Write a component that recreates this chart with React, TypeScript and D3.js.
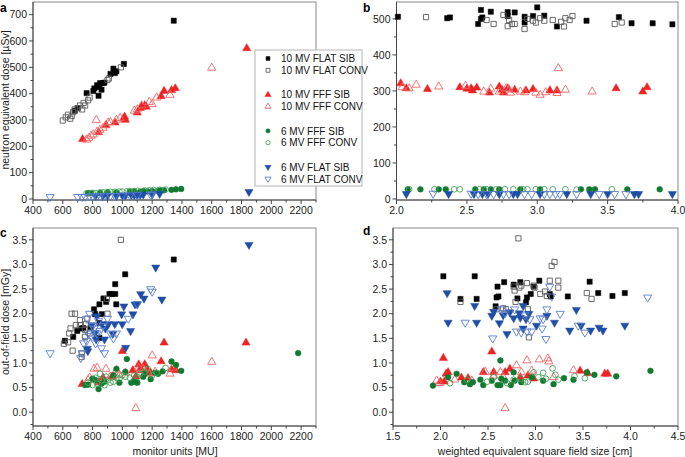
import React from 'react';
import * as d3 from 'd3';

type Pt = [number, number];

const seriesNames = [
  '10 MV FLAT SIB', '10 MV FLAT CONV',
  '10 MV FFF SIB', '10 MV FFF CONV',
  '6 MV FFF SIB', '6 MV FFF CONV',
  '6 MV FLAT SIB', '6 MV FLAT CONV',
];

// tick labels
const muTicks = [400, 600, 800, 1000, 1200, 1400, 1600, 1800, 2000, 2200];
const neutronTicksA = [0, 100, 200, 300, 400, 500, 600, 700];
const neutronTicksB = [0, 100, 200, 300, 400, 500];
const fieldTicksB = [2.0, 2.5, 3.0, 3.5, 4.0];
const fieldTicksD = [1.5, 2.0, 2.5, 3.0, 3.5, 4.0, 4.5];
const oofTicks = [0.0, 0.5, 1.0, 1.5, 2.0, 2.5, 3.0, 3.5];

// ---- panel a: monitor units vs neutron equivalent dose
const aFlat10Sib: Pt[] = [[680, 335], [700, 345], [760, 402], [805, 410], [812, 420], [830, 432], [840, 392], [845, 425], [850, 440], [860, 415], [870, 440], [880, 442], [920, 475], [940, 495], [950, 478], [960, 485], [1010, 513], [1345, 677]];
const aFlat10Conv: Pt[] = [[600, 298], [620, 310], [635, 320], [650, 305], [660, 315], [670, 330], [680, 340], [700, 345], [715, 355], [730, 340], [740, 365], [750, 355], [770, 375], [780, 385], [900, 452], [910, 458], [990, 500]];
const aFff10Sib: Pt[] = [[733, 227], [840, 253], [890, 280], [950, 290], [1010, 305], [1015, 312], [1020, 300], [1100, 328], [1120, 345], [1130, 350], [1150, 355], [1160, 350], [1260, 390], [1280, 410], [1330, 413], [1355, 420], [1835, 572]];
const aFff10Conv: Pt[] = [[760, 225], [775, 232], [790, 240], [805, 245], [825, 300], [830, 255], [850, 262], [870, 270], [890, 280], [905, 290], [920, 292], [960, 300], [985, 307], [1080, 335], [1100, 340], [1130, 355], [1180, 368], [1200, 360], [1230, 385], [1320, 395], [1600, 498]];
const aFff6Sib: Pt[] = [[770, 22], [790, 22], [850, 24], [900, 25], [960, 25], [1050, 27], [1080, 28], [1120, 28], [1140, 30], [1170, 29], [1200, 30], [1240, 31], [1260, 33], [1280, 33], [1330, 35], [1360, 37], [1395, 38]];
const aFff6Conv: Pt[] = [[760, 22], [800, 23], [820, 22], [850, 24], [870, 25], [900, 26], [920, 27], [950, 27], [980, 28], [1000, 28], [1030, 29], [1050, 30], [1080, 30], [1100, 31], [1150, 32], [1180, 33], [1210, 34], [1250, 35], [1290, 36]];
const aFlat6Sib: Pt[] = [[820, 12], [870, 12], [900, 13], [960, 12], [1000, 14], [1020, 13], [1060, 15], [1080, 15], [1100, 16], [1120, 16], [1140, 17], [1200, 18], [1250, 20], [1850, 27]];
const aFlat6Conv: Pt[] = [[515, 8], [700, 8], [730, 8], [750, 9], [780, 10], [800, 10], [830, 10], [850, 11], [880, 11], [920, 12], [950, 12], [1000, 13], [1050, 14], [1100, 15], [1190, 16], [1200, 18]];

// ---- panel b: field size vs neutron equivalent dose
const bFlat10Sib: Pt[] = [[2.01, 506], [2.36, 502], [2.38, 504], [2.58, 486], [2.60, 500], [2.60, 525], [2.61, 504], [2.67, 520], [2.79, 519], [2.79, 508], [2.84, 518], [2.91, 490], [2.91, 506], [2.97, 508], [3.00, 532], [3.05, 509], [3.14, 479], [3.35, 495], [3.58, 505], [3.67, 488], [3.82, 488], [3.96, 485]];
const bFlat10Conv: Pt[] = [[2.21, 505], [2.64, 497], [2.69, 486], [2.76, 511], [2.79, 480], [2.80, 497], [2.82, 486], [2.84, 486], [2.91, 472], [2.93, 500], [2.97, 495], [2.99, 490], [3.02, 502], [3.05, 495], [3.11, 497], [3.17, 492], [3.19, 479], [3.20, 502], [3.23, 497], [3.25, 508], [3.55, 486], [3.60, 490]];
const bFff10Sib: Pt[] = [[2.03, 321], [2.07, 307], [2.22, 305], [2.45, 310], [2.50, 306], [2.53, 307], [2.54, 301], [2.57, 309], [2.66, 295], [2.73, 312], [2.75, 303], [2.76, 295], [2.79, 307], [2.84, 303], [2.92, 301], [2.97, 305], [3.09, 301], [3.14, 301], [3.56, 307], [3.75, 298], [3.78, 310]];
const bFff10Conv: Pt[] = [[2.04, 310], [2.09, 307], [2.14, 317], [2.30, 312], [2.49, 314], [2.62, 298], [2.67, 306], [2.73, 298], [2.78, 307], [2.80, 304], [2.81, 295], [2.88, 298], [2.91, 296], [2.99, 295], [3.02, 289], [3.06, 296], [3.14, 294], [3.15, 363], [3.20, 303], [3.39, 298]];
const bFff6Sib: Pt[] = [[2.08, 27], [2.17, 27], [2.30, 27], [2.35, 27], [2.56, 27], [2.62, 27], [2.67, 27], [2.73, 27], [2.88, 27], [3.02, 27], [3.31, 27], [3.37, 27], [3.41, 27], [3.64, 27], [3.87, 27]];
const bFff6Conv: Pt[] = [[2.09, 27], [2.27, 27], [2.41, 27], [2.45, 27], [2.59, 27], [2.64, 27], [2.71, 27], [2.77, 27], [2.83, 27], [2.90, 27], [2.93, 27], [2.99, 27], [3.05, 27], [3.11, 27], [3.20, 27], [3.28, 26], [3.53, 27]];
const bFlat6Sib: Pt[] = [[2.07, 14], [2.37, 14], [2.55, 14], [2.61, 14], [2.65, 14], [2.73, 14], [2.83, 14], [2.86, 14], [3.02, 14], [3.21, 14], [3.38, 14], [3.50, 14], [3.69, 14], [3.72, 14], [3.96, 14]];
const bFlat6Conv: Pt[] = [[2.26, 15], [2.53, 15], [2.58, 14], [2.64, 14], [2.69, 14], [2.76, 14], [2.80, 14], [2.91, 14], [2.96, 14], [3.05, 14], [3.09, 14], [3.13, 14], [3.16, 14], [3.28, 14], [3.44, 14], [3.55, 14], [3.63, 14]];

// ---- panel c: monitor units vs out-of-field dose
const cFlat10Sib: Pt[] = [[614, 1.45], [670, 1.53], [697, 1.65], [727, 1.70], [738, 1.71], [787, 1.73], [810, 2.09], [817, 1.99], [846, 2.19], [846, 1.81], [846, 1.51], [862, 1.99], [873, 2.31], [891, 2.24], [913, 2.40], [929, 2.40], [952, 2.40], [952, 2.60], [959, 2.19], [1019, 2.80], [1345, 3.10]];
const cFlat10Conv: Pt[] = [[607, 1.39], [636, 1.42], [643, 1.60], [666, 1.25], [659, 2.0], [682, 2.0], [652, 1.70], [688, 1.77], [715, 1.87], [715, 1.77], [727, 1.12], [727, 1.19], [749, 1.67], [756, 1.79], [780, 1.60], [765, 1.90], [896, 2.30], [900, 2.0], [990, 3.50], [749, 1.53]];
const cFff10Sib: Pt[] = [[730, 0.57], [840, 0.60], [870, 0.70], [930, 0.72], [1000, 1.24], [1070, 0.85], [1090, 0.72], [1110, 0.97], [1120, 0.88], [1130, 0.85], [1150, 0.97], [1170, 0.85], [1190, 0.80], [1260, 1.03], [1280, 1.41], [1330, 0.87], [1360, 0.85], [1830, 1.41]];
const cFff10Conv: Pt[] = [[770, 0.65], [780, 0.70], [810, 0.88], [830, 0.90], [850, 0.62], [890, 0.88], [920, 0.72], [960, 0.85], [980, 0.75], [1020, 0.80], [1090, 0.08], [1110, 0.90], [1140, 0.88], [1180, 0.78], [1200, 1.15], [1220, 0.82], [1320, 0.78], [1340, 0.90], [1600, 1.02]];
const cFff6Sib: Pt[] = [[750, 0.55], [770, 0.56], [800, 0.68], [820, 0.65], [840, 0.47], [860, 0.58], [880, 0.62], [940, 0.75], [960, 0.88], [980, 0.60], [1020, 0.82], [1030, 1.08], [1060, 0.60], [1080, 0.62], [1100, 0.60], [1140, 0.72], [1150, 0.78], [1190, 0.67], [1220, 0.80], [1240, 0.78], [1270, 0.83], [1330, 1.03], [1360, 0.96], [1395, 0.84], [2180, 1.20]];
const cFff6Conv: Pt[] = [[770, 0.6], [800, 0.55], [820, 0.7], [830, 0.58], [850, 0.78], [860, 0.65], [880, 0.55], [890, 0.72], [900, 0.65], [920, 0.6], [940, 0.62], [960, 0.7], [980, 0.68], [1000, 0.75], [1020, 0.72], [1050, 0.7], [1080, 0.75], [1100, 0.72], [1120, 0.78], [1150, 0.82], [1170, 0.88], [1200, 0.75], [1230, 0.8], [1290, 0.9]];
const cFlat6Sib: Pt[] = [[763, 1.29], [768, 1.24], [817, 1.61], [824, 1.48], [862, 1.79], [880, 1.48], [886, 1.70], [905, 1.79], [936, 1.59], [949, 1.79], [999, 1.79], [995, 1.99], [1010, 2.15], [1022, 1.31], [1055, 1.65], [1071, 1.99], [1085, 2.19], [1100, 2.19], [1123, 2.40], [1145, 2.31], [1224, 2.94], [1265, 2.29], [1850, 3.40], [829, 1.95], [794, 1.77]];
const cFlat6Conv: Pt[] = [[515, 1.2], [720, 1.1], [730, 1.2], [740, 1.4], [760, 1.45], [760, 1.9], [770, 1.6], [780, 2.0], [790, 1.55], [800, 1.75], [810, 1.7], [820, 1.4], [830, 1.6], [840, 1.85], [850, 1.65], [860, 1.3], [870, 1.75], [880, 1.2], [900, 1.9], [920, 1.6], [940, 1.5], [960, 1.6], [1040, 1.9], [1100, 2.2], [1190, 2.5], [1200, 2.45]];

// ---- panel d: field size vs out-of-field dose
const dFlat10Sib: Pt[] = [[2.03, 2.76], [2.21, 2.30], [2.36, 2.76], [2.38, 2.30], [2.58, 2.15], [2.59, 2.33], [2.60, 2.55], [2.61, 2.35], [2.67, 2.64], [2.77, 2.59], [2.81, 2.31], [2.84, 2.64], [2.90, 2.23], [2.91, 2.33], [2.95, 2.40], [2.98, 2.55], [3.04, 2.67], [3.15, 2.40], [3.16, 2.35], [3.34, 2.35], [3.57, 2.65], [3.66, 2.42], [3.81, 2.36], [3.94, 2.42]];
const dFlat10Conv: Pt[] = [[2.21, 2.24], [2.59, 2.09], [2.66, 2.11], [2.69, 2.09], [2.77, 2.55], [2.78, 2.47], [2.79, 2.24], [2.82, 3.53], [2.83, 2.53], [2.85, 2.57], [2.91, 2.62], [2.92, 2.09], [2.93, 1.52], [2.98, 2.57], [2.99, 2.53], [3.05, 2.40], [3.10, 2.45], [3.12, 2.36], [3.15, 2.67], [3.17, 2.97], [3.20, 3.05], [3.24, 2.67], [3.24, 2.53], [3.54, 2.42], [3.59, 2.30]];
const dFff10Sib: Pt[] = [[2.00, 0.62], [2.03, 1.10], [2.04, 0.62], [2.06, 0.78], [2.08, 0.81], [2.22, 0.70], [2.29, 0.69], [2.45, 0.81], [2.54, 1.23], [2.56, 0.81], [2.68, 0.81], [2.73, 0.88], [2.84, 0.71], [2.92, 0.74], [2.98, 0.68], [3.47, 0.84], [3.55, 0.79], [3.73, 0.78], [3.76, 0.78]];
const dFff10Conv: Pt[] = [[1.96, 0.64], [1.99, 0.59], [2.15, 0.66], [2.33, 0.64], [2.47, 0.82], [2.56, 0.74], [2.63, 0.81], [2.66, 0.71], [2.68, 0.08], [2.80, 0.95], [2.85, 0.81], [2.91, 1.05], [2.96, 0.84], [3.04, 1.07], [3.13, 1.09], [3.14, 1.03], [3.19, 0.71], [3.40, 0.85]];
const dFff6Sib: Pt[] = [[1.92, 0.54], [2.08, 0.71], [2.17, 0.78], [2.25, 0.61], [2.31, 0.57], [2.34, 0.61], [2.42, 0.66], [2.45, 0.55], [2.54, 0.64], [2.60, 0.55], [2.63, 0.55], [2.63, 1.05], [2.64, 0.68], [2.68, 0.64], [2.74, 0.55], [2.77, 0.81], [2.78, 0.64], [2.85, 0.61], [2.96, 0.71], [3.08, 0.64], [3.19, 0.57], [3.30, 0.69], [3.40, 0.66], [3.54, 0.81], [3.62, 0.76], [3.85, 0.73], [4.21, 0.84]];
const dFff6Conv: Pt[] = [[2.10, 0.59], [2.28, 0.66], [2.49, 0.62], [2.56, 0.71], [2.70, 0.59], [2.77, 0.66], [2.84, 0.68], [2.89, 0.61], [2.92, 0.62], [2.98, 0.81], [3.03, 0.71], [3.08, 0.80], [3.11, 0.68], [3.18, 0.89], [3.21, 0.76], [3.24, 0.66], [3.41, 0.73], [3.52, 0.69]];
const dFlat6Sib: Pt[] = [[2.07, 2.42], [2.08, 1.82], [2.36, 2.16], [2.38, 1.82], [2.54, 1.96], [2.56, 2.04], [2.62, 1.81], [2.66, 1.97], [2.70, 1.59], [2.73, 2.03], [2.77, 1.91], [2.83, 2.01], [2.84, 1.92], [2.87, 2.16], [2.87, 1.70], [2.90, 1.89], [2.93, 2.0], [3.01, 1.76], [3.12, 1.96], [3.20, 1.82], [3.36, 1.66], [3.43, 2.08], [3.48, 1.76], [3.58, 1.66], [3.67, 1.72], [3.71, 1.66], [3.94, 1.76]];
const dFlat6Conv: Pt[] = [[2.26, 1.82], [2.55, 1.50], [2.64, 2.09], [2.68, 2.01], [2.78, 2.09], [2.80, 1.64], [2.85, 1.62], [2.89, 1.97], [2.91, 1.64], [2.94, 1.89], [2.96, 1.64], [3.05, 1.91], [3.07, 1.70], [3.08, 1.89], [3.11, 1.49], [3.12, 2.09], [3.15, 2.55], [3.17, 2.35], [3.26, 2.0], [3.45, 1.76], [3.52, 1.62], [4.18, 2.33]];

const panelA = [aFlat10Sib, aFlat10Conv, aFff10Sib, aFff10Conv, aFff6Sib, aFff6Conv, aFlat6Sib, aFlat6Conv];
const panelB = [bFlat10Sib, bFlat10Conv, bFff10Sib, bFff10Conv, bFff6Sib, bFff6Conv, bFlat6Sib, bFlat6Conv];
const panelC = [cFlat10Sib, cFlat10Conv, cFff10Sib, cFff10Conv, cFff6Sib, cFff6Conv, cFlat6Sib, cFlat6Conv];
const panelD = [dFlat10Sib, dFlat10Conv, dFff10Sib, dFff10Conv, dFff6Sib, dFff6Conv, dFlat6Sib, dFlat6Conv];

// marker styles in legend order
const markers = [
  { shape: 'square', color: '#000000', filled: true },
  { shape: 'square', color: '#5a5a5a', filled: false },
  { shape: 'up', color: '#ee2222', filled: true },
  { shape: 'up', color: '#f06565', filled: false },
  { shape: 'circle', color: '#127a30', filled: true },
  { shape: 'circle', color: '#45a058', filled: false },
  { shape: 'down', color: '#1f4ea6', filled: true },
  { shape: 'down', color: '#5a7ecb', filled: false },
];

const FONT = '"Liberation Sans", Arial, Helvetica, sans-serif';

const symbolPath = (shape: string, scale = 1) => {
  if (shape === 'square') return d3.symbol().type(d3.symbolSquare).size(27 * scale)()!;
  if (shape === 'circle') return d3.symbol().type(d3.symbolCircle).size(26 * scale)()!;
  return d3.symbol().type(d3.symbolTriangle).size(29 * scale)()!;
};

const Marker = ({ x, y, idx, scale = 1 }: { x: number; y: number; idx: number; scale?: number }) => {
  const m = markers[idx];
  const rot = m.shape === 'down' ? ' rotate(180)' : '';
  return (
    <path
      d={symbolPath(m.shape, scale)}
      transform={`translate(${x},${y})${rot}`}
      fill={m.filled ? m.color : 'none'}
      stroke={m.color}
      strokeWidth={m.filled ? 0.5 : 0.9}
    />
  );
};

const minorTicks = (ticks: number[], domain: number[]) => {
  const half = (ticks[1] - ticks[0]) / 2;
  const out: number[] = [];
  const k0 = Math.ceil((domain[0] - ticks[0]) / half - 1e-9);
  const k1 = Math.floor((domain[1] - ticks[0]) / half + 1e-9);
  for (let k = k0; k <= k1; k++) {
    if (Math.abs(k % 2) === 1) out.push(ticks[0] + k * half);
  }
  return out;
};

interface PanelProps {
  box: { l: number; r: number; t: number; b: number };
  xDomain: number[];
  yDomain: number[];
  xTicks: number[];
  yTicks: number[];
  xFmt: (v: number) => string;
  yFmt: (v: number) => string;
  letter: string;
  letterPos: [number, number];
  sets: Pt[][];
}

const Panel = ({ box, xDomain, yDomain, xTicks, yTicks, xFmt, yFmt, letter, letterPos, sets }: PanelProps) => {
  const x = d3.scaleLinear().domain(xDomain).range([box.l, box.r]);
  const y = d3.scaleLinear().domain(yDomain).range([box.b, box.t]);
  const xMinor = minorTicks(xTicks, xDomain);
  const yMinor = minorTicks(yTicks, yDomain);
  return (
    <g>
      <rect x={box.l} y={box.t} width={box.r - box.l} height={box.b - box.t} fill="none" stroke="#8a8a8a" strokeWidth={1} />
      <line x1={box.l} x2={box.l} y1={box.t} y2={box.b} stroke="#444" />
      <line x1={box.l} x2={box.r} y1={box.b} y2={box.b} stroke="#444" />
      {xTicks.map(t => (
        <g key={`xt${t}`}>
          <line x1={x(t)} x2={x(t)} y1={box.b} y2={box.b + 4} stroke="#444" />
          <text x={x(t)} y={box.b + 14} textAnchor="middle" fontSize={10.5} fill="#222">{xFmt(t)}</text>
        </g>
      ))}
      {xMinor.map(t => (
        <line key={`xm${t}`} x1={x(t)} x2={x(t)} y1={box.b} y2={box.b + 2.5} stroke="#444" />
      ))}
      {yTicks.map(t => (
        <g key={`yt${t}`}>
          <line x1={box.l - 4} x2={box.l} y1={y(t)} y2={y(t)} stroke="#444" />
          <text x={box.l - 6} y={y(t) + 3.7} textAnchor="end" fontSize={10.5} fill="#222">{yFmt(t)}</text>
        </g>
      ))}
      {yMinor.map(t => (
        <line key={`ym${t}`} x1={box.l - 2.5} x2={box.l} y1={y(t)} y2={y(t)} stroke="#444" />
      ))}
      {sets.map((pts, i) => (
        <g key={`s${i}`}>
          {pts.map((p, j) => (
            <Marker key={j} x={x(p[0])} y={y(p[1])} idx={i} />
          ))}
        </g>
      ))}
      <text x={letterPos[0]} y={letterPos[1]} fontSize={12} fontWeight="bold" fill="#000">{letter}</text>
    </g>
  );
};

const Legend = () => {
  const lx = 255, ly = 50;
  return (
    <g>
      <rect x={lx} y={ly} width={107} height={136} fill="#fff" stroke="#b5b5b5" />
      {seriesNames.map((name, i) => {
        const g = Math.floor(i / 2);
        const cy = 58.5 + g * 36.2 + (i % 2) * 11.8;
        return (
          <g key={name}>
            <Marker x={268} y={cy} idx={i} scale={0.55} />
            <text x={281} y={cy + 3.6} fontSize={10} fill="#111">{name}</text>
          </g>
        );
      })}
    </g>
  );
};

const fmtInt = (v: number) => d3.format('d')(v);
const fmt1 = (v: number) => d3.format('.1f')(v);

export default function App() {
  return (
    <svg width={685} height={457} style={{ position: 'absolute', left: 0, top: 0, background: '#fff', fontFamily: FONT }}>
      <Panel box={{ l: 33, r: 316, t: 2, b: 200 }} xDomain={[400, 2300]} yDomain={[-3.8, 748]}
        xTicks={muTicks} yTicks={neutronTicksA} xFmt={fmtInt} yFmt={fmtInt}
        letter="a" letterPos={[0, 12]} sets={panelA} />
      <Panel box={{ l: 396.5, r: 678, t: 2, b: 200 }} xDomain={[2.0, 4.0]} yDomain={[-2.8, 547]}
        xTicks={fieldTicksB} yTicks={neutronTicksB} xFmt={fmt1} yFmt={fmtInt}
        letter="b" letterPos={[363, 12]} sets={panelB} />
      <Panel box={{ l: 33, r: 316, t: 228, b: 426 }} xDomain={[400, 2300]} yDomain={[-0.28, 3.74]}
        xTicks={muTicks} yTicks={oofTicks} xFmt={fmtInt} yFmt={fmt1}
        letter="c" letterPos={[0, 237]} sets={panelC} />
      <Panel box={{ l: 393, r: 678, t: 228, b: 426 }} xDomain={[1.5, 4.5]} yDomain={[-0.28, 3.74]}
        xTicks={fieldTicksD} yTicks={oofTicks} xFmt={fmt1} yFmt={fmt1}
        letter="d" letterPos={[363, 235]} sets={panelD} />
      <Legend />
      <text transform="translate(9,100) rotate(-90)" textAnchor="middle" fontSize={10.5} fill="#222">neutron equivalent dose [µSv]</text>
      <text transform="translate(9,322) rotate(-90)" textAnchor="middle" fontSize={10.5} fill="#222">out-of-field dose [mGy]</text>
      <text x={175} y={455} textAnchor="middle" fontSize={10.5} fill="#222">monitor units [MU]</text>
      <text x={535} y={455} textAnchor="middle" fontSize={10.5} fill="#222">weighted equivalent square field size [cm]</text>
    </svg>
  );
}
